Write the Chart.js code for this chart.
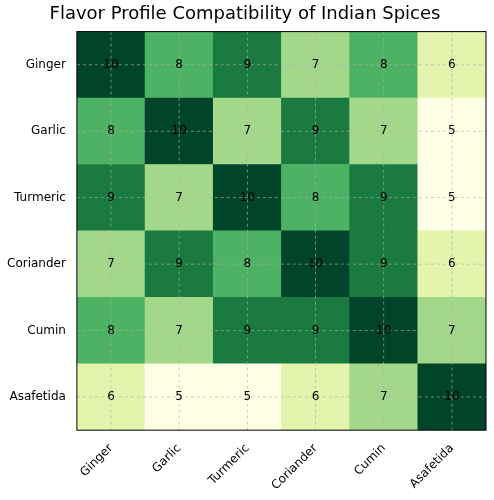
<!DOCTYPE html>
<html><head><script src="https://cdn.jsdelivr.net/npm/chart.js@4"></script>
<style>body{margin:0;background:#fff}#w{width:494px;height:500px}</style></head>
<body><div id="w"><canvas id="c"></canvas></div>
<script>
const spices=["Ginger","Garlic","Turmeric","Coriander","Cumin","Asafetida"];
const matrix=[
[10,8,9,7,8,6],
[8,10,7,9,7,5],
[9,7,10,8,9,5],
[7,9,8,10,9,6],
[8,7,9,9,10,7],
[6,5,5,6,7,10]];
const palette={5:"#ffffe5",6:"#e4f4ac",7:"#a3d88a",8:"#4db264",9:"#1a7a3f",10:"#004529"};
const rowsBottomUp=spices.map((s,i)=>i).reverse();
const datasets=rowsBottomUp.map(r=>({label:spices[r],data:spices.map(()=>1),
  backgroundColor:matrix[r].map(v=>palette[v]),borderWidth:0,barPercentage:1,categoryPercentage:1,row:r}));
const overlay={id:'ov',afterDatasetsDraw(ch){
  const ctx=ch.ctx,a=ch.chartArea,xs=ch.scales.x,ys=ch.scales.y;
  ctx.save();ctx.strokeStyle='rgba(176,176,176,0.8)';ctx.lineWidth=0.8;ctx.setLineDash([3,3]);
  for(let i=0;i<6;i++){const x=xs.getPixelForValue(i);ctx.beginPath();ctx.moveTo(x,a.top);ctx.lineTo(x,a.bottom);ctx.stroke();
    const y=ys.getPixelForValue(i+0.5);ctx.beginPath();ctx.moveTo(a.left,y);ctx.lineTo(a.right,y);ctx.stroke();}
  ctx.setLineDash([]);ctx.fillStyle='#000';ctx.font='12px "DejaVu Sans"';ctx.textAlign='center';ctx.textBaseline='middle';
  ch.data.datasets.forEach((d,di)=>{ch.getDatasetMeta(di).data.forEach((el,ci)=>{
    ctx.fillText(matrix[d.row][ci],el.x,(el.y+el.base)/2);});});
  ctx.strokeStyle='#000';ctx.lineWidth=1;ctx.strokeRect(a.left,a.top,a.right-a.left,a.bottom-a.top);
  ctx.restore();}};
new Chart(document.getElementById('c'),{type:'bar',data:{labels:spices,datasets},
 options:{responsive:true,maintainAspectRatio:false,animation:false,
  layout:{padding:{left:4,right:8,top:0,bottom:4}},
  plugins:{legend:{display:false},tooltip:{enabled:false},
   title:{display:true,text:'Flavor Profile Compatibility of Indian Spices',color:'#000',font:{family:'DejaVu Sans',size:18,weight:'normal'},padding:{top:4,bottom:6}}},
  scales:{
   x:{stacked:true,grid:{display:false},border:{display:false},
      ticks:{color:'#000',font:{family:'DejaVu Sans',size:12},maxRotation:45,minRotation:45}},
   y:{stacked:true,min:0,max:6,grid:{display:false},border:{display:false},
      afterBuildTicks(s){s.ticks=[0.5,1.5,2.5,3.5,4.5,5.5].map(v=>({value:v}));},
      ticks:{color:'#000',font:{family:'DejaVu Sans',size:12},callback:v=>spices[5-Math.floor(v)]}}}},
 plugins:[overlay]});
</script></body></html>
